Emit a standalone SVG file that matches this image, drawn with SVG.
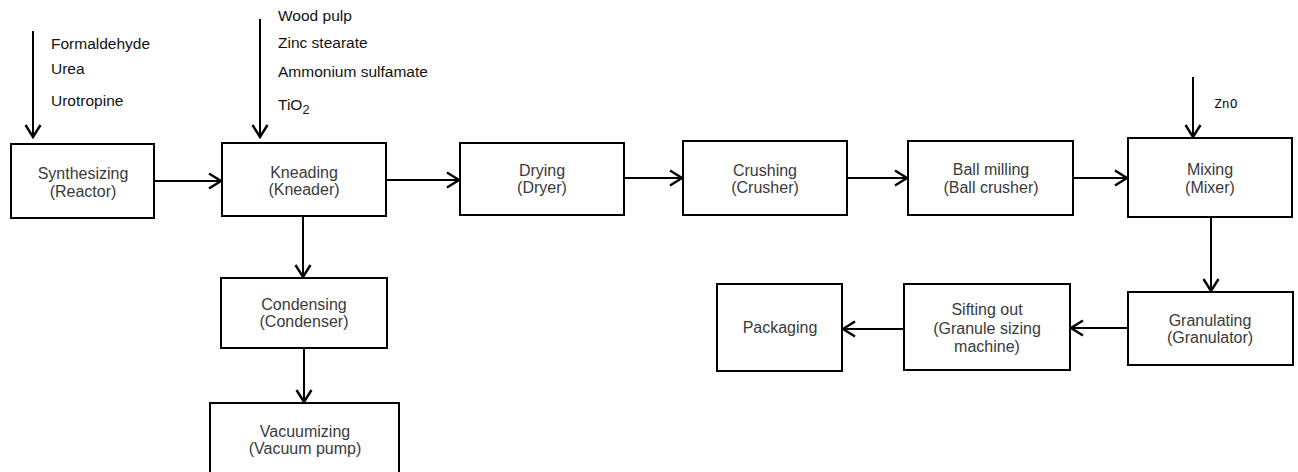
<svg xmlns="http://www.w3.org/2000/svg" width="1298" height="472" viewBox="0 0 1298 472">
<style>
.box{fill:#fff;stroke:#000;stroke-width:2}
.t{font-family:"Liberation Sans",Arial,sans-serif;font-size:16px;fill:#3a3a3a;text-anchor:middle}
.in{font-family:"Liberation Sans",Arial,sans-serif;font-size:15.5px;fill:#111}
.mono{font-family:"DejaVu Sans Mono",monospace;font-size:13px;fill:#111}
.c{stroke:#000;stroke-width:2;fill:none;marker-end:url(#ah)}
</style>
<defs>
<marker id="ah" markerUnits="userSpaceOnUse" markerWidth="20" markerHeight="20" viewBox="-14 -10 16 20" refX="0" refY="0" orient="auto">
<path d="M-12,-7.5 L0,0 L-12,7.5" fill="none" stroke="#000" stroke-width="2.4"/>
</marker>
</defs>
<rect width="1298" height="472" fill="#fff"/>
<g id="connectors">
<line class="c" x1="33" y1="31" x2="33" y2="137"/>
<line class="c" x1="260" y1="19" x2="260" y2="137"/>
<line class="c" x1="154" y1="181" x2="221" y2="181"/>
<line class="c" x1="386" y1="180" x2="459" y2="180"/>
<line class="c" x1="624" y1="178" x2="682" y2="178"/>
<line class="c" x1="847" y1="178" x2="907" y2="178"/>
<line class="c" x1="1073" y1="178" x2="1127" y2="178"/>
<line class="c" x1="1193" y1="77" x2="1193" y2="137"/>
<line class="c" x1="1211" y1="217" x2="1211" y2="291"/>
<line class="c" x1="1128" y1="328" x2="1071" y2="328"/>
<line class="c" x1="904" y1="329" x2="843" y2="329"/>
<line class="c" x1="303" y1="216" x2="303" y2="277"/>
<line class="c" x1="304" y1="348" x2="304" y2="402"/>
</g>
<g id="inputs1">
<text class="in" x="51" y="49">Formaldehyde</text>
<text class="in" x="51" y="74">Urea</text>
<text class="in" x="51" y="106">Urotropine</text>
</g>
<g id="inputs2">
<text class="in" x="278" y="21">Wood pulp</text>
<text class="in" x="278" y="48">Zinc stearate</text>
<text class="in" x="278" y="77">Ammonium sulfamate</text>
<text class="in" x="278" y="110">TiO<tspan font-size="12.5" dy="4">2</tspan></text>
</g>
<g id="input3">
<text class="mono" x="1214" y="108">ZnO</text>
</g>
<g id="synthesizing">
<rect class="box" x="11" y="144" width="143" height="74"/>
<text class="t" x="83" y="179">Synthesizing</text>
<text class="t" x="83" y="197">(Reactor)</text>
</g>
<g id="kneading">
<rect class="box" x="222" y="143" width="164" height="73"/>
<text class="t" x="304" y="178">Kneading</text>
<text class="t" x="304" y="195">(Kneader)</text>
</g>
<g id="drying">
<rect class="box" x="460" y="143" width="164" height="72"/>
<text class="t" x="542" y="176">Drying</text>
<text class="t" x="542" y="193">(Dryer)</text>
</g>
<g id="crushing">
<rect class="box" x="683" y="141" width="164" height="74"/>
<text class="t" x="765" y="176">Crushing</text>
<text class="t" x="765" y="193">(Crusher)</text>
</g>
<g id="ballmilling">
<rect class="box" x="908" y="141" width="165" height="74"/>
<text class="t" x="991" y="175">Ball milling</text>
<text class="t" x="991" y="193">(Ball crusher)</text>
</g>
<g id="mixing">
<rect class="box" x="1128" y="138" width="164" height="79"/>
<text class="t" x="1210" y="175">Mixing</text>
<text class="t" x="1210" y="193">(Mixer)</text>
</g>
<g id="condensing">
<rect class="box" x="221" y="278" width="166" height="70"/>
<text class="t" x="304" y="310">Condensing</text>
<text class="t" x="304" y="327">(Condenser)</text>
</g>
<g id="vacuumizing">
<rect class="box" x="210" y="403" width="189" height="80"/>
<text class="t" x="305" y="437">Vacuumizing</text>
<text class="t" x="305" y="454">(Vacuum pump)</text>
</g>
<g id="granulating">
<rect class="box" x="1128" y="292" width="165" height="73"/>
<text class="t" x="1210" y="326">Granulating</text>
<text class="t" x="1210" y="343">(Granulator)</text>
</g>
<g id="sifting">
<rect class="box" x="904" y="284" width="166" height="86"/>
<text class="t" x="987" y="315">Sifting out</text>
<text class="t" x="987" y="334">(Granule sizing</text>
<text class="t" x="987" y="352">machine)</text>
</g>
<g id="packaging">
<rect class="box" x="717" y="284" width="125" height="87"/>
<text class="t" x="780" y="333">Packaging</text>
</g>
</svg>
